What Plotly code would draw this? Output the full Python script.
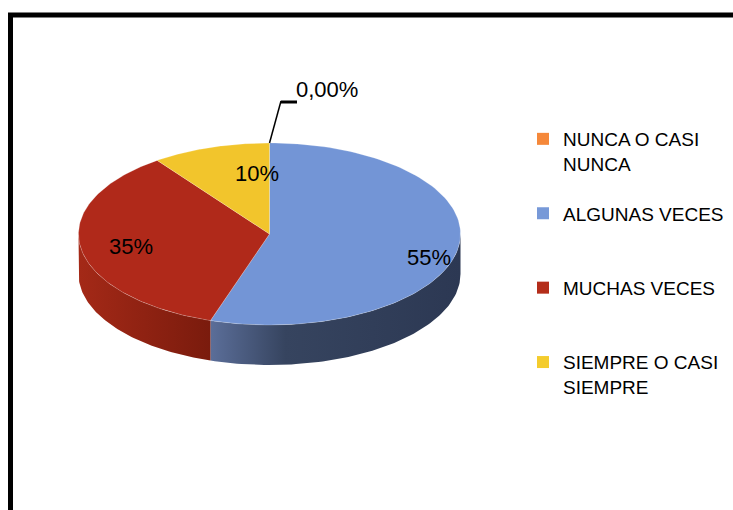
import numpy as np
import plotly.graph_objects as go

categories = ["NUNCA O CASI NUNCA", "ALGUNAS VECES", "MUCHAS VECES", "SIEMPRE O CASI SIEMPRE"]
legend_labels = ["NUNCA O CASI<br>NUNCA", "ALGUNAS VECES<br> ", "MUCHAS VECES<br> ", "SIEMPRE O CASI<br>SIEMPRE"]
values = [0.0, 55.0, 35.0, 10.0]
label_texts = ["0,00%", "55%", "35%", "10%"]

top_colors = ["#f5883a", "#7395d6", "#b0291a", "#f2c52c"]
legend_colors = ["#f5883a", "#7799d8", "#b42d1a", "#f4cc2d"]
side_scales = [
    [[0, "#c86a28"], [1, "#a0521c"]],
    [[0, "#5b6e99"], [0.3, "#36445f"], [1, "#2c3853"]],
    [[0, "#a42917"], [1, "#7a1b0d"]],
    [[0, "#c9a020"], [1, "#a8851a"]],
]

W, H = 733, 510
cx, cy, rx, ry, depth = 269.5, 234.0, 191.0, 91.0, 40.0


def pt(t):
    a = np.radians(90.0 - t)
    return cx + rx * np.cos(a), cy - ry * np.sin(a)


total = sum(values)
bounds = []
acc = 0.0
for v in values:
    t0 = acc / total * 360.0
    acc += v
    t1 = acc / total * 360.0
    bounds.append((t0, t1))

fig = go.Figure()

# side walls (front half only)
for i, (t0, t1) in enumerate(bounds):
    a0, a1 = max(t0, 90.0), min(t1, 270.0)
    if a1 <= a0:
        continue
    ts = np.linspace(a0, a1, 80)
    xs, ys = pt(ts)
    px = np.concatenate([xs, xs[::-1], xs[:1]])
    py = np.concatenate([ys, ys[::-1] + depth, ys[:1]])
    fig.add_trace(go.Scatter(
        x=px, y=py, mode="lines", fill="toself",
        line=dict(width=0), hoverinfo="skip", showlegend=False,
        fillgradient=dict(type="horizontal", colorscale=side_scales[i]),
    ))

# top faces
for i, (t0, t1) in enumerate(bounds):
    if t1 - t0 <= 0:
        continue
    ts = np.linspace(t0, t1, 120)
    xs, ys = pt(ts)
    px = np.concatenate([[cx], xs, [cx]])
    py = np.concatenate([[cy], ys, [cy]])
    fig.add_trace(go.Scatter(
        x=px, y=py, mode="lines", fill="toself", fillcolor=top_colors[i],
        line=dict(width=0.6, color="rgba(255,255,255,0.35)"),
        hoverinfo="text", text=categories[i], showlegend=False,
    ))

# legend entries
for i, lab in enumerate(legend_labels):
    fig.add_trace(go.Scatter(
        x=[None], y=[None], mode="markers", name=lab, legendgroup=str(i),
        marker=dict(symbol="square", size=12, color=legend_colors[i]),
    ))

# data labels
label_pos = [(327, 89), (429, 257), (131, 246), (257, 173)]
for txt, (lx, ly) in zip(label_texts, label_pos):
    fig.add_annotation(x=lx, y=ly, text=txt, showarrow=False, xref="x", yref="y",
                       font=dict(family="Liberation Sans", size=22, color="#000000"))

# leader line for the 0% slice
sx, sy = pt(bounds[0][0])
fig.add_shape(type="line", x0=sx, y0=sy, x1=281, y1=101, xref="x", yref="y",
              line=dict(color="#000000", width=1.5))
fig.add_shape(type="line", x0=281, y0=102, x1=297, y1=102, xref="x", yref="y",
              line=dict(color="#000000", width=3))

# frame
fig.add_shape(type="line", x0=8, y0=15, x1=W, y1=15, xref="x", yref="y",
              line=dict(color="#000000", width=5))
fig.add_shape(type="line", x0=10.5, y0=13, x1=10.5, y1=H, xref="x", yref="y",
              line=dict(color="#000000", width=5))

fig.update_layout(
    width=W, height=H,
    margin=dict(l=0, r=0, t=0, b=0),
    paper_bgcolor="white", plot_bgcolor="white",
    xaxis=dict(range=[0, W], visible=False, fixedrange=True),
    yaxis=dict(range=[H, 0], visible=False, fixedrange=True),
    showlegend=True,
    legend=dict(
        x=523 / W, y=1 - 120 / H, xanchor="left", yanchor="top",
        font=dict(family="Liberation Sans", size=19, color="#000000"),
        valign="top", tracegroupgap=22, traceorder="grouped",
        bgcolor="rgba(0,0,0,0)",
    ),
)

fig.write_html("out.html")
